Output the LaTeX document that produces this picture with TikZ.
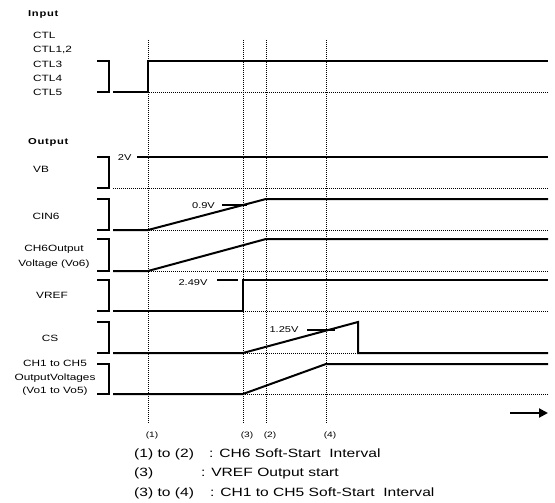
\documentclass[tikz,border=0pt]{standalone}
\usepackage{fontspec}
\setmainfont{Liberation Sans}[FakeStretch=1.3]
\usetikzlibrary{arrows.meta}

% bracket in front of each signal row
\newcommand{\sigbrace}[2]{\draw[sig] (97,#1) -- (109,#1) -- (109,#2) -- (97,#2);}

\begin{document}
\begin{tikzpicture}[x=1pt,y=-1pt,
    sig/.style={line width=2pt},
    guide/.style={line width=0.75pt, dash pattern=on 1pt off 1pt},
    ttl/.style={font=\fontsize{8.6}{10}\selectfont\bfseries\addfontfeatures{LetterSpace=8}, anchor=base west, inner sep=0pt},
    lbl/.style={font=\fontsize{9.1}{10}\selectfont, anchor=base, inner sep=0pt},
    val/.style={font=\fontsize{8.5}{10}\selectfont, anchor=base, inner sep=0pt},
    tlbl/.style={font=\fontsize{7.8}{9}\selectfont, anchor=base, inner sep=0pt},
    note/.style={font=\fontsize{12}{14}\selectfont, anchor=base west, inner sep=0pt}]
  \fill[white] (0,0) rectangle (555,503);
  \useasboundingbox (0,0) rectangle (555,503);

  % time marks
  \foreach \t/\x in {1/148,3/243,2/266,4/326}{
    \draw[guide] (\x,40) -- (\x,423);
    \node[tlbl] (t\t) at (\x+4,437.5) {(\t)};
  }
  % zero levels
  \foreach \y in {92,188,230,271,311,353,394}
    \draw[guide] (113,\y) -- (548,\y);

  % input
  \node[ttl] (inp) at (28,17) {Input};
  \foreach \n [count=\i from 0] in {CTL,{CTL1,2},CTL3,CTL4,CTL5}
    \node[lbl, anchor=base west] (ctl\i) at (33,38.9+14.1*\i) {\n};
  \sigbrace{61}{92}
  \draw[sig] (113,92) -- (148,92) -- (148,61) -- (548,61);

  % output
  \node[ttl] (outp) at (28,145) {Output};

  \node[lbl] (vb) at (41,172.7) {VB};
  \sigbrace{157}{188}
  \node[val] (vbv) at (124.7,160.1) {2V};
  \draw[sig] (137,157) -- (548,157);

  \node[lbl] (cin) at (46,219.7) {CIN6};
  \sigbrace{199}{230}
  \draw[sig] (113,230) -- (148,230) -- (266,199) -- (548,199);
  \node[val] (cinv) at (203.5,208.1) {0.9V};
  \draw[sig] (222,205) -- (247,205);

  \node[lbl] (vo6a) at (54,251.2) {CH6Output};
  \node[lbl] (vo6b) at (54,266.2) {Voltage (Vo6)};
  \sigbrace{239}{271}
  \draw[sig] (113,271) -- (148,271) -- (266,239) -- (548,239);

  \node[lbl] (vref) at (52,298.7) {VREF};
  \sigbrace{280}{311}
  \node[val] (vrefv) at (193,285.6) {2.49V};
  \draw[sig] (217,280) -- (238,280);
  \draw[sig] (113,311) -- (243,311) -- (243,280) -- (548,280);

  \node[lbl] (cs) at (50,341.7) {CS};
  \sigbrace{322}{353}
  \draw[sig] (113,353) -- (243,353) -- (358,322) -- (358,353) -- (548,353);
  \node[val] (csv) at (284,332.6) {1.25V};
  \draw[sig] (307,330) -- (335,330);

  \node[lbl] (voa) at (55,366.5) {CH1 to CH5};
  \node[lbl] (vob) at (55,380.5) {OutputVoltages};
  \node[lbl] (voc) at (55,393.9) {(Vo1 to Vo5)};
  \sigbrace{364}{394}
  \draw[sig] (113,394) -- (243,394) -- (326,364) -- (548,364);

  % time axis
  \coordinate (tS) at (510,413);
  \coordinate (tE) at (548,413);
  \draw[sig, -{Triangle[length=9pt,width=9pt]}] (tS) -- (tE);

  % legend
  \node[note] (n1) at (134,457.6) {(1) to (2)};
  \node[note] (n1t) at (209,457.6) {: CH6 Soft-Start\ \ Interval};
  \node[note] (n2) at (134,476.8) {(3)};
  \node[note] (n2t) at (201,476.8) {: VREF Output start};
  \node[note] (n3) at (134,496) {(3) to (4)};
  \node[note] (n3t) at (210,496) {: CH1 to CH5 Soft-Start\ \ Interval};
\end{tikzpicture}
\end{document}
